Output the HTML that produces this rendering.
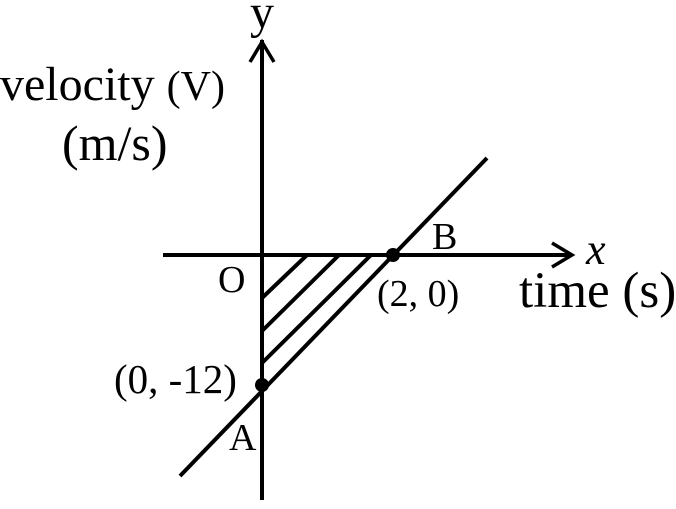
<!DOCTYPE html>
<html><head><style>
body{margin:0;background:#fff}
svg text{font-family:"Liberation Serif",serif;fill:#000}
</style></head><body>
<svg width="676" height="504" viewBox="0 0 676 504" xmlns="http://www.w3.org/2000/svg">
<g stroke="#000" stroke-width="4" fill="none">
<line x1="262" y1="40" x2="262" y2="500"/>
<line x1="163" y1="255" x2="572" y2="255"/>
<polyline points="250,62 262,42 274,62" stroke-width="3.5"/>
<polyline points="552,243 572,255 552,267" stroke-width="3.5"/>
<line x1="180" y1="476" x2="487" y2="158"/>
<line x1="307" y1="255" x2="262" y2="298"/>
<line x1="339" y1="255" x2="262" y2="331"/>
<line x1="371" y1="255" x2="262" y2="363"/>
</g>
<circle cx="262" cy="385" r="7"/>
<circle cx="393" cy="255" r="7"/>
<text x="250" y="28" font-size="48">y</text>
<text x="0" y="100" font-size="48">velocity <tspan font-size="42">(V)</tspan></text>
<text x="62" y="160" font-size="50">(m/s)</text>
<text x="218" y="292" font-size="38">O</text>
<text x="432" y="249" font-size="38">B</text>
<text x="586" y="264" font-size="44" font-style="italic">x</text>
<text x="377" y="306" font-size="38">(2, 0)</text>
<text x="519" y="307" font-size="51">time (s)</text>
<text x="114" y="393" font-size="41">(0, -12)</text>
<text x="229" y="450" font-size="38">A</text>
</svg>
</body></html>
